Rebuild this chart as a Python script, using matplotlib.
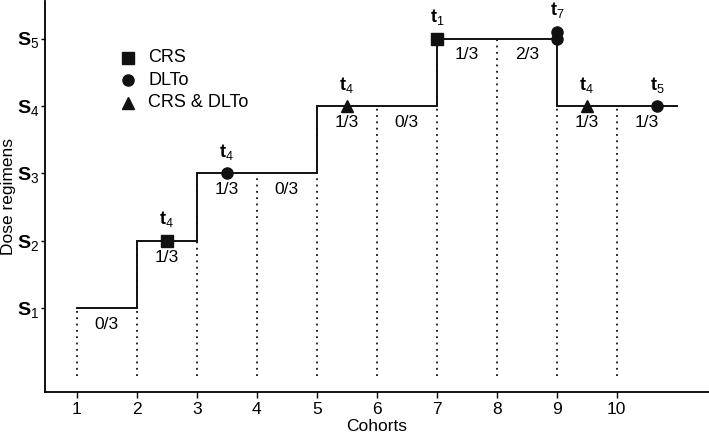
import matplotlib
matplotlib.use("Agg")
import matplotlib.pyplot as plt
from matplotlib import font_manager

# the reference uses a narrow Helvetica-like face
names = {f.name for f in font_manager.fontManager.ttflist}
base = "Liberation Sans Narrow" if "Liberation Sans Narrow" in names else "Liberation Sans"

plt.rcParams['font.family'] = [base, 'Liberation Sans', 'DejaVu Sans']
plt.rcParams['mathtext.fontset'] = 'custom'
plt.rcParams['mathtext.rm'] = 'Liberation Sans'
plt.rcParams['mathtext.bf'] = 'Liberation Sans:bold'

# dose level per cohort (cohort 1..10, last segment to 11)
cohorts = [1, 2, 3, 4, 5, 6, 7, 8, 9, 10]
doses = [1, 2, 3, 3, 4, 4, 5, 5, 4, 4]
fractions = ["0/3", "1/3", "1/3", "0/3", "1/3", "0/3", "1/3", "2/3", "1/3", "1/3"]

# toxicity events: x, dose, kind, time label
ev_x = [2.5, 3.5, 5.5, 7, 9, 9, 9.5, 10.67]
ev_y = [2, 3, 4, 5, 5, 5.1, 4, 4]
ev_kind = ["s", "o", "^", "s", "o", "o", "^", "o"]
ev_lab = ["4", "4", "4", "1", "", "7", "4", "5"]

fig = plt.figure(figsize=(7.09, 4.36), dpi=100)
ax = fig.add_axes([0.0635, 0.101, 0.9365, 0.897])

# step line
xs, ys = [], []
for c, d in zip(cohorts, doses):
    xs += [c, c + 1]
    ys += [d, d]
ax.plot(xs, ys, color="#111111", lw=1.4, solid_joinstyle="miter")

# dotted separators
for c, d in zip(cohorts, doses):
    ax.plot([c, c], [0, d], color="#111111", lw=1.3, ls=(0, (1, 2.5)))

# fractions
for c, d, f in zip(cohorts, doses, fractions):
    ax.text(c + 0.5, d - 0.13, f, ha="center", va="top", fontsize=12.5)

# event markers
for x, y, k, lab in zip(ev_x, ev_y, ev_kind, ev_lab):
    ax.plot(x, y, marker=k, color="#111111", ms=8, ls="none")
    if lab:
        ax.text(x, y + 0.17, r"$\mathbf{t}_{\mathrm{%s}}$" % lab,
                ha="center", va="bottom", fontsize=13)

# legend
leg_y = [4.72, 4.38, 4.05]
leg_m = ["s", "o", "^"]
leg_t = ["CRS", "DLTo", "CRS & DLTo"]
for y, m, t in zip(leg_y, leg_m, leg_t):
    ax.plot(1.85, y, marker=m, color="#111111", ms=8, ls="none")
    ax.text(2.19, y, t, va="center", fontsize=13)

ax.set_xlim(0.47, 11.537)
ax.set_ylim(-0.24, 5.56)
ax.set_xticks(cohorts)
ax.set_xticklabels([str(c) for c in cohorts], fontsize=12.5)
ax.set_yticks([1, 2, 3, 4, 5])
ax.set_yticklabels([r"$\mathbf{S}_{\mathrm{%d}}$" % i for i in range(1, 6)], fontsize=14)
ax.set_xlabel("Cohorts", fontsize=12.5, labelpad=1)
ax.set_ylabel("Dose regimens", fontsize=12.5)
ax.yaxis.set_label_coords(-0.043, 0.5)
for s in ["top", "right"]:
    ax.spines[s].set_visible(False)
for s in ["left", "bottom"]:
    ax.spines[s].set_linewidth(1.3)
ax.tick_params(axis="x", length=4, width=1)
ax.tick_params(axis="y", length=3, width=1, pad=1)

fig.savefig("out.png", dpi=100)
